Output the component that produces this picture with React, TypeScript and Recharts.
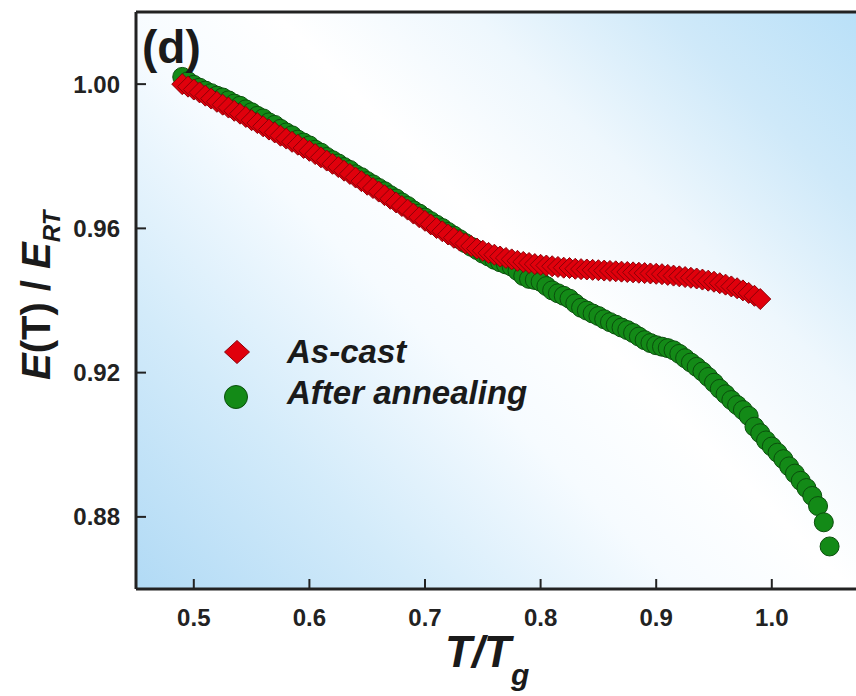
import React from 'react';
import { ScatterChart, Scatter, XAxis, YAxis, ReferenceLine } from 'recharts';

// T/Tg tick values and E(T)/E_RT tick values
const xTicks = [0.5, 0.6, 0.7, 0.8, 0.9, 1.0];
const yTicks = [0.88, 0.92, 0.96, 1.0];

// As-cast sample: [T/Tg, E(T)/E_RT]
const asCast: [number, number][] = [
  [0.490, 1.0000], [0.495, 0.9993], [0.500, 0.9985], [0.505, 0.9977], [0.510, 0.9968],
  [0.515, 0.9960], [0.520, 0.9951], [0.525, 0.9943], [0.530, 0.9935], [0.535, 0.9926],
  [0.540, 0.9918], [0.545, 0.9909], [0.550, 0.9900], [0.555, 0.9892], [0.560, 0.9883],
  [0.565, 0.9874], [0.570, 0.9866], [0.575, 0.9857], [0.580, 0.9849], [0.585, 0.9840],
  [0.590, 0.9832], [0.595, 0.9823], [0.600, 0.9815], [0.605, 0.9806], [0.610, 0.9797],
  [0.615, 0.9788], [0.620, 0.9779], [0.625, 0.9770], [0.630, 0.9760], [0.635, 0.9751],
  [0.640, 0.9741], [0.645, 0.9731], [0.650, 0.9721], [0.655, 0.9712], [0.660, 0.9702],
  [0.665, 0.9692], [0.670, 0.9682], [0.675, 0.9672], [0.680, 0.9662], [0.685, 0.9652],
  [0.690, 0.9641], [0.695, 0.9631], [0.700, 0.9621], [0.705, 0.9611], [0.710, 0.9601],
  [0.715, 0.9592], [0.720, 0.9583], [0.725, 0.9574], [0.730, 0.9566], [0.735, 0.9558],
  [0.740, 0.9551], [0.745, 0.9544], [0.750, 0.9538], [0.755, 0.9532], [0.760, 0.9527],
  [0.765, 0.9522], [0.770, 0.9518], [0.775, 0.9514], [0.780, 0.9510], [0.785, 0.9507],
  [0.790, 0.9504], [0.795, 0.9501], [0.800, 0.9499], [0.805, 0.9497], [0.810, 0.9495],
  [0.815, 0.9493], [0.820, 0.9491], [0.825, 0.9490], [0.830, 0.9488], [0.835, 0.9487],
  [0.840, 0.9486], [0.845, 0.9485], [0.850, 0.9484], [0.855, 0.9483], [0.860, 0.9482],
  [0.865, 0.9481], [0.870, 0.9480], [0.875, 0.9479], [0.880, 0.9478], [0.885, 0.9477],
  [0.890, 0.9476], [0.895, 0.9475], [0.900, 0.9474], [0.905, 0.9473], [0.910, 0.9471],
  [0.915, 0.9469], [0.920, 0.9467], [0.925, 0.9465], [0.930, 0.9463], [0.935, 0.9461],
  [0.940, 0.9458], [0.945, 0.9455], [0.950, 0.9452], [0.955, 0.9448], [0.960, 0.9444],
  [0.965, 0.9439], [0.970, 0.9434], [0.975, 0.9428], [0.980, 0.9421], [0.985, 0.9413],
  [0.990, 0.9404],
];

// After annealing sample
const annealed: [number, number][] = [
  [0.490, 1.0020], [0.495, 1.0008], [0.500, 0.9998], [0.505, 0.9990], [0.510, 0.9982],
  [0.515, 0.9975], [0.520, 0.9968], [0.525, 0.9963], [0.530, 0.9955], [0.535, 0.9946],
  [0.540, 0.9940], [0.545, 0.9930], [0.550, 0.9922], [0.555, 0.9912], [0.560, 0.9905],
  [0.565, 0.9894], [0.570, 0.9887], [0.575, 0.9876], [0.580, 0.9866], [0.585, 0.9858],
  [0.590, 0.9846], [0.595, 0.9838], [0.600, 0.9830], [0.605, 0.9818], [0.610, 0.9810],
  [0.615, 0.9798], [0.620, 0.9789], [0.625, 0.9780], [0.630, 0.9770], [0.635, 0.9762],
  [0.640, 0.9750], [0.645, 0.9742], [0.650, 0.9731], [0.655, 0.9722], [0.660, 0.9712],
  [0.665, 0.9703], [0.670, 0.9692], [0.675, 0.9683], [0.680, 0.9672], [0.685, 0.9662],
  [0.690, 0.9650], [0.695, 0.9641], [0.700, 0.9630], [0.705, 0.9620], [0.710, 0.9610],
  [0.715, 0.9601], [0.720, 0.9590], [0.725, 0.9580], [0.730, 0.9570], [0.735, 0.9559],
  [0.740, 0.9549], [0.745, 0.9540], [0.750, 0.9530], [0.755, 0.9522], [0.760, 0.9513],
  [0.765, 0.9506], [0.770, 0.9500], [0.775, 0.9494], [0.780, 0.9482], [0.785, 0.9468],
  [0.790, 0.9460], [0.795, 0.9457], [0.800, 0.9452], [0.805, 0.9440], [0.810, 0.9428],
  [0.815, 0.9420], [0.820, 0.9413], [0.825, 0.9405], [0.830, 0.9392], [0.835, 0.9380],
  [0.840, 0.9372], [0.845, 0.9364], [0.850, 0.9357], [0.855, 0.9348], [0.860, 0.9340],
  [0.865, 0.9333], [0.870, 0.9325], [0.875, 0.9318], [0.880, 0.9310], [0.885, 0.9300],
  [0.890, 0.9290], [0.895, 0.9282], [0.900, 0.9276], [0.905, 0.9272], [0.910, 0.9268],
  [0.915, 0.9262], [0.920, 0.9252], [0.925, 0.9240], [0.930, 0.9228], [0.935, 0.9216],
  [0.940, 0.9203], [0.945, 0.9188], [0.950, 0.9172], [0.955, 0.9155], [0.960, 0.9140],
  [0.965, 0.9124], [0.970, 0.9110], [0.975, 0.9096], [0.980, 0.9080], [0.985, 0.9050],
  [0.990, 0.9032], [0.995, 0.9012], [1.000, 0.8995], [1.005, 0.8978], [1.010, 0.8960],
  [1.015, 0.8940], [1.020, 0.8920], [1.025, 0.8900], [1.030, 0.8880], [1.035, 0.8858],
  [1.040, 0.8830], [1.045, 0.8785], [1.050, 0.8718],
];

const FONT = '"Liberation Sans", Arial, sans-serif';
const AXIS = '#222';
const RED = '#e0000c';
const GREEN = '#138a17';

const W = 860;
const H = 696;
// plot area: left 136, top 12, bottom 589
const Y_AXIS_W = 136;
const X_AXIS_H = 60;
const M = { top: 12, right: 1.5, bottom: 107 - X_AXIS_H, left: 0 };

const Diamond = (props: any) => {
  const { cx, cy } = props;
  const r = 10.5;
  return (
    <polygon
      points={`${cx},${cy - r} ${cx + r},${cy} ${cx},${cy + r} ${cx - r},${cy}`}
      fill={RED}
      stroke="#8c0008"
      strokeWidth={1}
    />
  );
};

const Dot = (props: any) => {
  const { cx, cy } = props;
  return <circle cx={cx} cy={cy} r={9.5} fill={GREEN} stroke="#0b4f0d" strokeWidth={1} />;
};

const XTick = (props: any) => {
  const { x, y, payload } = props;
  return (
    <g>
      <line x1={x} x2={x} y1={y} y2={y - 10} stroke={AXIS} strokeWidth={2} />
      <text x={x} y={y + 37} textAnchor="middle" fontFamily={FONT} fontWeight="bold" fontSize={24} fill="#222">
        {payload.value.toFixed(1)}
      </text>
    </g>
  );
};

const YTick = (props: any) => {
  const { x, y, payload } = props;
  return (
    <g>
      <line x1={x} x2={x + 10} y1={y} y2={y} stroke={AXIS} strokeWidth={2} />
      <text x={x - 16} y={y + 8.5} textAnchor="end" fontFamily={FONT} fontWeight="bold" fontSize={24} fill="#222">
        {payload.value.toFixed(2)}
      </text>
    </g>
  );
};

export default function App() {
  const asCastData = asCast.map(([t, e]) => ({ t, e }));
  const annealedData = annealed.map(([t, e]) => ({ t, e }));

  return (
    <div style={{ position: 'absolute', left: 0, top: 0, width: 856, height: 696, overflow: 'hidden', background: '#fff' }}>
      {/* plot background */}
      <div
        style={{
          position: 'absolute',
          left: Y_AXIS_W,
          top: M.top,
          width: W - Y_AXIS_W - M.right,
          height: H - M.top - M.bottom - X_AXIS_H,
          background:
            'linear-gradient(45deg, #b1daf5 0%, #d3ebfa 22%, #f6fbff 42%, #ffffff 55%, #eef7fd 70%, #cfe9f9 85%, #b9e0f8 100%)',
        }}
      />
      <div style={{ position: 'absolute', left: 0, top: 0 }}>
        <ScatterChart width={W} height={H} margin={M}>
          <XAxis
            type="number"
            dataKey="t"
            domain={[0.45, 1.075]}
            ticks={xTicks}
            height={X_AXIS_H}
            tickSize={0}
            tickMargin={0}
            tick={XTick}
            tickLine={false}
            axisLine={{ stroke: AXIS, strokeWidth: 3 }}
            allowDataOverflow
          />
          <YAxis
            type="number"
            dataKey="e"
            domain={[0.86, 1.02]}
            ticks={yTicks}
            width={Y_AXIS_W}
            tickSize={0}
            tickMargin={0}
            tick={YTick}
            tickLine={false}
            axisLine={{ stroke: AXIS, strokeWidth: 3 }}
            allowDataOverflow
          />
          <ReferenceLine y={1.02} stroke={AXIS} strokeWidth={3} />
          <ReferenceLine x={1.075} stroke={AXIS} strokeWidth={3} />
          <Scatter data={annealedData} shape={Dot} isAnimationActive={false} />
          <Scatter data={asCastData} shape={Diamond} isAnimationActive={false} />
        </ScatterChart>
      </div>
      {/* titles, panel label and legend */}
      <svg width={856} height={696} style={{ position: 'absolute', left: 0, top: 0, pointerEvents: 'none' }}>
        <text x={142} y={63} fontFamily={FONT} fontWeight="bold" fontSize={46} fill="#1a1a1a">(d)</text>

        <polygon points="237,340.5 249.5,352 237,363.5 224.5,352" fill={RED} stroke="#8c0008" strokeWidth={1} />
        <text x={287} y={363} fontFamily={FONT} fontWeight="bold" fontStyle="italic" fontSize={33} fill="#1a1a1a">As-cast</text>
        <circle cx={236} cy={397} r={11.5} fill={GREEN} stroke="#0b4f0d" strokeWidth={1} />
        <text x={287} y={404} fontFamily={FONT} fontWeight="bold" fontStyle="italic" fontSize={33} fill="#1a1a1a">After annealing</text>

        <text x={445} y={667} fontFamily={FONT} fontWeight="bold" fontStyle="italic" fontSize={44} fill="#1a1a1a">
          T/T<tspan fontSize={30} dy={18}>g</tspan>
        </text>

        <text
          transform="translate(50,380) rotate(-90)"
          fontFamily={FONT}
          fontWeight="bold"
          fontSize={40}
          fill="#1a1a1a"
        >
          <tspan fontStyle="italic">E</tspan>(T) / <tspan fontStyle="italic">E</tspan>
          <tspan fontStyle="italic" fontSize={24} dy={10}>RT</tspan>
        </text>
      </svg>
    </div>
  );
}
